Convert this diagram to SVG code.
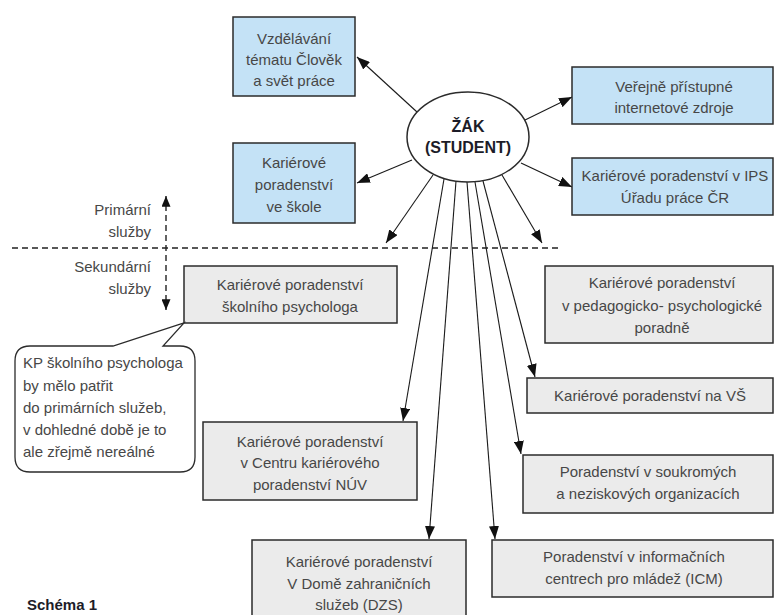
<svg xmlns="http://www.w3.org/2000/svg" width="775" height="615" viewBox="0 0 775 615">
<style>
.t{font-family:"Liberation Sans",Arial,sans-serif;font-size:15px;fill:#474747;text-anchor:middle}
.l{text-anchor:start}
.r{text-anchor:end}
.blue{fill:#c4e2f6;stroke:#2b2b2b;stroke-width:1.5}
.gray{fill:#ebebeb;stroke:#2b2b2b;stroke-width:1.5}
.c{stroke:#1a1a1a;stroke-width:1.1;fill:none;marker-end:url(#ah)}
.d{stroke:#222;stroke-width:1.4;stroke-dasharray:6 4;fill:none}
</style>
<defs>
<marker id="ah" viewBox="0 0 13 10" refX="13" refY="5" markerWidth="13" markerHeight="10" markerUnits="userSpaceOnUse" orient="auto">
<path d="M0,0 L13,5 L0,10 z" fill="#111"/>
</marker>
<marker id="ah2" viewBox="0 0 12 10" refX="12" refY="5" markerWidth="11" markerHeight="9" markerUnits="userSpaceOnUse" orient="auto">
<path d="M0,0 L12,5 L0,10 z" fill="#111"/>
</marker>
</defs>
<rect width="775" height="615" fill="#fff"/>

<g id="connectors">
<line class="d" x1="12" y1="248" x2="560" y2="248"/>
<line x1="166" y1="205" x2="166" y2="300" stroke="#222" stroke-width="1.4" stroke-dasharray="6 4"/>
<path d="M166,204 L166,196" stroke="#222" stroke-width="1.4" marker-end="url(#ah2)"/>
<path d="M166,300 L166,310" stroke="#222" stroke-width="1.4" marker-end="url(#ah2)"/>
<line class="c" x1="417" y1="112" x2="357" y2="57"/>
<line class="c" x1="412" y1="160" x2="357" y2="183"/>
<line class="c" x1="523" y1="121" x2="572" y2="97"/>
<line class="c" x1="521" y1="163" x2="572" y2="187"/>
<line class="c" x1="433" y1="175" x2="386" y2="243"/>
<line class="c" x1="502" y1="175" x2="542" y2="243"/>
<line class="c" x1="444" y1="179" x2="403" y2="421"/>
<line class="c" x1="456" y1="181" x2="429" y2="539"/>
<line class="c" x1="467" y1="182" x2="495" y2="539"/>
<line class="c" x1="475" y1="182" x2="521" y2="454"/>
<line class="c" x1="483" y1="181" x2="535" y2="377"/>
</g>

<g id="student">
<ellipse cx="468" cy="137" rx="61" ry="45" fill="#fff" stroke="#2b2b2b" stroke-width="1.5"/>
<text class="t" x="468" y="132" style="font-weight:bold;font-size:16px;fill:#1c1c28">ŽÁK</text>
<text class="t" x="468" y="153" style="font-weight:bold;font-size:16px;fill:#1c1c28">(STUDENT)</text>
</g>

<g id="vzdelavani">
<rect class="blue" x="233" y="17" width="122" height="79"/>
<text class="t" x="294" y="44">Vzdělávání</text>
<text class="t" x="294" y="65">tématu Člověk</text>
<text class="t" x="294" y="86">a svět práce</text>
</g>

<g id="skola">
<rect class="blue" x="233" y="143" width="122" height="80"/>
<text class="t" x="294" y="168">Kariérové</text>
<text class="t" x="294" y="190">poradenství</text>
<text class="t" x="294" y="212">ve škole</text>
</g>

<g id="internet">
<rect class="blue" x="572" y="67" width="201" height="57"/>
<text class="t" x="674" y="92">Veřejně přístupné</text>
<text class="t" x="674" y="113">internetové zdroje</text>
</g>

<g id="ips">
<rect class="blue" x="572" y="158" width="201" height="57"/>
<text class="t" x="675" y="181">Kariérové poradenství v IPS</text>
<text class="t" x="675" y="203">Úřadu práce ČR</text>
</g>

<g id="labels">
<text class="t r" x="151" y="215">Primární</text>
<text class="t r" x="151" y="237">služby</text>
<text class="t r" x="151" y="272">Sekundární</text>
<text class="t r" x="151" y="294">služby</text>
</g>

<g id="psycholog">
<rect class="gray" x="184" y="266" width="213" height="57"/>
<text class="t" x="290" y="290">Kariérové poradenství</text>
<text class="t" x="290" y="312">školního psychologa</text>
</g>

<g id="callout">
<path d="M30,346 L113,346 L184,323 L163,346 L180,346 Q195,346 195,361 L195,457 Q195,472 180,472 L30,472 Q15,472 15,457 L15,361 Q15,346 30,346 z" fill="#fff" stroke="#2b2b2b" stroke-width="1.3"/>
<text class="t l" x="23" y="368">KP školního psychologa</text>
<text class="t l" x="23" y="391">by mělo patřit</text>
<text class="t l" x="23" y="413">do primárních služeb,</text>
<text class="t l" x="23" y="435">v dohledné době je to</text>
<text class="t l" x="23" y="457">ale zřejmě nereálné</text>
</g>

<g id="ppp">
<rect class="gray" x="545" y="266" width="228" height="77"/>
<text class="t" x="662" y="288">Kariérové poradenství</text>
<text class="t" x="662" y="311">v pedagogicko- psychologické</text>
<text class="t" x="662" y="333">poradně</text>
</g>

<g id="vs">
<rect class="gray" x="527" y="378" width="246" height="35"/>
<text class="t" x="650" y="401">Kariérové poradenství na VŠ</text>
</g>

<g id="nuv">
<rect class="gray" x="203" y="422" width="214" height="78"/>
<text class="t" x="310" y="447">Kariérové poradenství</text>
<text class="t" x="310" y="468">v Centru kariérového</text>
<text class="t" x="310" y="490">poradenství NÚV</text>
</g>

<g id="soukrome">
<rect class="gray" x="523" y="455" width="250" height="58"/>
<text class="t" x="648" y="477">Poradenství v soukromých</text>
<text class="t" x="648" y="499">a neziskových organizacích</text>
</g>

<g id="dzs">
<rect class="gray" x="252" y="540" width="214" height="85"/>
<text class="t" x="359" y="567">Kariérové poradenství</text>
<text class="t" x="359" y="589">V Domě zahraničních</text>
<text class="t" x="359" y="610">služeb (DZS)</text>
</g>

<g id="icm">
<rect class="gray" x="492" y="540" width="281" height="57"/>
<text class="t" x="634" y="562">Poradenství v informačních</text>
<text class="t" x="634" y="584">centrech pro mládež (ICM)</text>
</g>

<text class="t l" x="27" y="610" style="font-weight:bold;font-size:15px;fill:#1c1c28">Schéma 1</text>
</svg>
